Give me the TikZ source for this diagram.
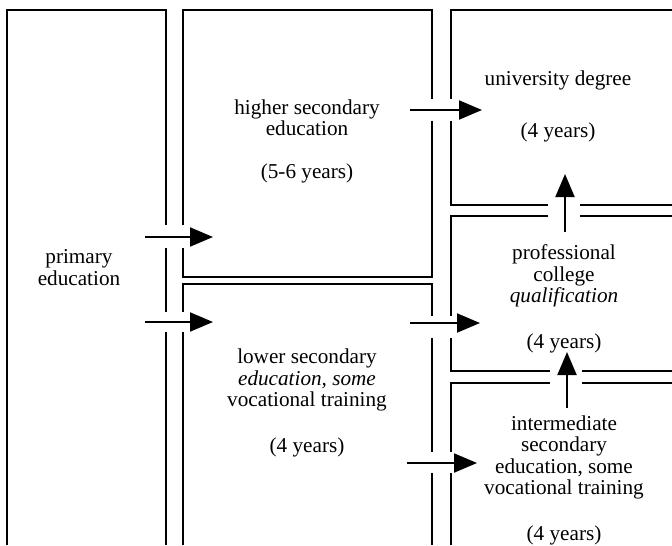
\documentclass[tikz,border=0pt]{standalone}
\usepackage{fontspec}
\setmainfont{Liberation Serif}
\usetikzlibrary{arrows.meta}

\tikzset{
  wall/.style={line width=1pt},
  arr/.style={line width=1pt, -{Triangle[length=11.5pt, width=9.5pt]}},
  boxtext/.style={align=center, anchor=base, inner sep=0pt, font=\fontsize{10.6}{10.75}\selectfont}
}

\begin{document}
\begin{tikzpicture}[x=0.5pt, y=-0.5pt]
    \useasboundingbox (0,0) rectangle (672,545);

    % Primary column
    \draw[wall] (7,545) -- (7,10) -- (166,10) -- (166,225);
    \draw[wall] (166,248) -- (166,312);
    \draw[wall] (166,332) -- (166,545);

    % Higher secondary box
    \draw[wall] (183,225) -- (183,10) -- (432,10) -- (432,99);
    \draw[wall] (432,121) -- (432,277) -- (183,277) -- (183,248);

    % Lower secondary box
    \draw[wall] (183,312) -- (183,284) -- (432,284) -- (432,316);
    \draw[wall] (432,338) -- (432,452);
    \draw[wall] (432,473) -- (432,545);
    \draw[wall] (183,332) -- (183,545);

    % University box
    \draw[wall] (672,10) -- (451,10) -- (451,99);
    \draw[wall] (451,121) -- (451,205) -- (548,205);
    \draw[wall] (580,205) -- (672,205);

    % Professional college box
    \draw[wall] (672,216) -- (580,216);
    \draw[wall] (548,216) -- (451,216) -- (451,316);
    \draw[wall] (451,338) -- (451,371) -- (550,371);
    \draw[wall] (582,371) -- (672,371);

    % Intermediate secondary box
    \draw[wall] (672,383) -- (582,383);
    \draw[wall] (550,383) -- (451,383) -- (451,452);
    \draw[wall] (451,473) -- (451,545);

    % Texts (placed by the baseline of their last line)
    \node (primary) [boxtext] at (79,285) {primary\\education};
    \node (higher) [boxtext] at (307,178) {higher secondary\\education\\[10.5pt](5-6 years)};
    \node (lower) [boxtext] at (307,452) {lower secondary\\\textit{education, some}\\vocational training\\[12pt](4 years)};
    \node (univ) [boxtext] at (558,138) {university degree\\[15.5pt](4 years)};
    \node (college) [boxtext] at (564,348) {professional\\college\\\textit{qualification}\\[12pt](4 years)};
    \node (inter) [boxtext] at (564,540) {intermediate\\secondary\\education, some\\vocational training\\[12pt](4 years)};

    % Arrow ends
    \coordinate (primary out1) at (145,237);
    \coordinate (higher in) at (213,237);
    \coordinate (primary out2) at (145,322);
    \coordinate (lower in) at (213,322);
    \coordinate (higher out) at (410,110);
    \coordinate (univ in) at (482,110);
    \coordinate (lower out1) at (410,323);
    \coordinate (college in) at (480,323);
    \coordinate (lower out2) at (407,463);
    \coordinate (inter in) at (477,463);
    \coordinate (college out) at (565,232);
    \coordinate (univ from below) at (565,174);
    \coordinate (inter out) at (567,408);
    \coordinate (college from below) at (567,352);

    % Arrows
    \draw[arr] (primary out1) -- (higher in);
    \draw[arr] (primary out2) -- (lower in);
    \draw[arr] (higher out) -- (univ in);
    \draw[arr] (lower out1) -- (college in);
    \draw[arr] (lower out2) -- (inter in);
    \draw[arr] (college out) -- (univ from below);
    \draw[arr] (inter out) -- (college from below);

\end{tikzpicture}
\end{document}
